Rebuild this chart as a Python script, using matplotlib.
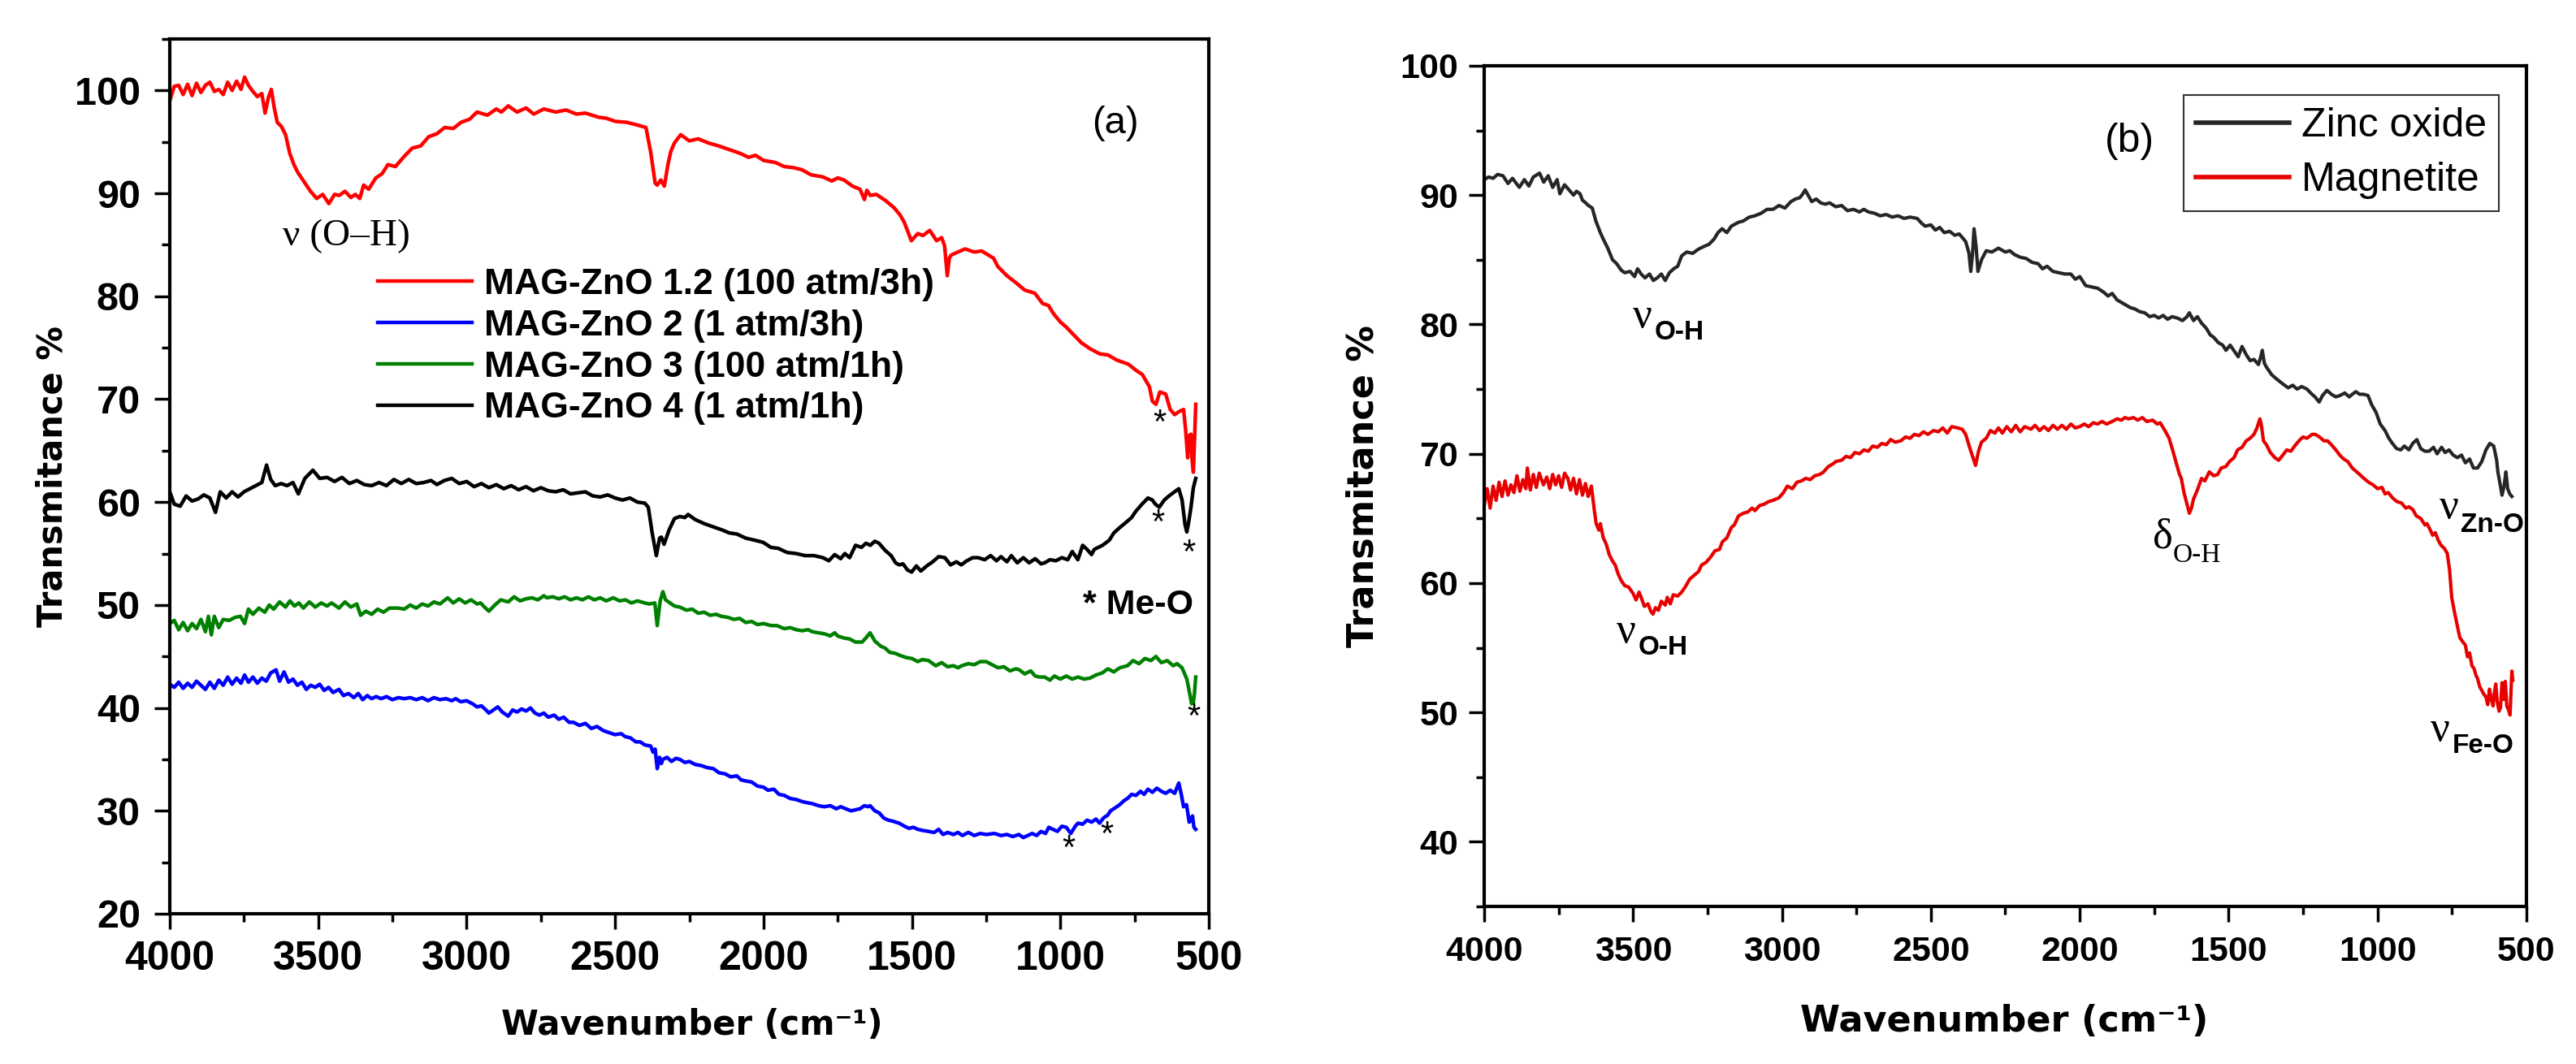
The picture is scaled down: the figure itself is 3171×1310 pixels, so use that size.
import matplotlib
matplotlib.use("Agg")
import matplotlib.pyplot as plt
from matplotlib.ticker import MultipleLocator

# ---------------- Panel (a) data ----------------
a_red_x = [4000, 3985, 3970, 3955, 3940, 3925, 3910, 3895, 3880, 3865, 3850, 3835, 3820, 3805, 3790, 3775, 3760, 3748, 3735, 3720,
           3705, 3690, 3679, 3668, 3658, 3648, 3638, 3624, 3610, 3596, 3582, 3568, 3554, 3540, 3526, 3505, 3485, 3464, 3445, 3429,
           3410, 3390, 3375, 3360, 3347, 3330, 3306, 3285, 3265, 3240, 3210, 3183, 3155, 3128, 3100, 3074, 3045, 3019, 2990, 2965,
           2930, 2900, 2883, 2860, 2830, 2800, 2774, 2740, 2700, 2665, 2630, 2600, 2556, 2530, 2500, 2460, 2420, 2396, 2380, 2365,
           2358, 2346, 2334, 2322, 2312, 2300, 2279, 2250, 2220, 2186, 2150, 2110, 2080, 2050, 2027, 2000, 1960, 1930, 1900, 1871,
           1840, 1800, 1770, 1750, 1729, 1700, 1675, 1660, 1652, 1640, 1620, 1589, 1560, 1540, 1526, 1502, 1480, 1463, 1440, 1417,
           1400, 1390, 1381, 1374, 1368, 1345, 1321, 1290, 1265, 1242, 1225, 1211, 1180, 1149, 1120, 1086, 1060, 1040, 1023, 1000,
           980, 960, 930, 900, 867, 840, 810, 771, 745, 724, 700, 690, 678, 665, 645, 630, 615, 600, 585, 578,
           571, 565, 560, 556, 552, 548, 544]
a_red_y = [99.0, 100.4, 100.5, 99.6, 100.6, 99.5, 100.7, 99.8, 100.5, 100.8, 99.9, 100.1, 99.6, 100.8, 100.0, 100.9, 100.1, 101.3, 100.5, 99.9,
           99.4, 99.7, 97.8, 99.3, 100.1, 98.3, 96.9, 96.5, 95.7, 93.9, 92.8, 92.0, 91.4, 90.8, 90.2, 89.5, 89.9, 89.0, 89.9, 89.8,
           90.2, 89.6, 89.9, 89.5, 90.8, 90.4, 91.5, 91.9, 92.8, 92.6, 93.6, 94.4, 94.6, 95.5, 95.8, 96.4, 96.3, 96.9, 97.2, 97.9,
           97.6, 98.2, 97.9, 98.5, 97.9, 98.3, 97.7, 98.2, 97.9, 98.1, 97.7, 97.8, 97.4, 97.3, 97.0, 96.9, 96.6, 96.4, 94.0, 91.0,
           90.8, 91.3, 90.7, 92.8, 94.1, 94.9, 95.7, 95.1, 95.3, 94.9, 94.6, 94.2, 93.9, 93.5, 93.7, 93.2, 93.0, 92.6, 92.5, 92.3,
           91.8, 91.6, 91.2, 91.5, 91.3, 90.7, 90.4, 89.4, 90.3, 89.8, 89.9, 89.3, 88.6, 87.9, 87.2, 85.4, 86.1, 85.9, 86.4, 85.4,
           85.7, 84.9, 82.0, 83.7, 84.0, 84.3, 84.6, 84.3, 84.4, 84.0, 83.7, 82.9, 82.0, 81.3, 80.6, 80.3, 79.3, 79.1, 78.3, 77.5,
           77.0, 76.4, 75.5, 74.9, 74.4, 74.3, 73.8, 73.4, 72.8, 72.4, 71.2, 69.8, 69.5, 70.7, 70.5, 69.0, 68.5, 68.8, 69.0, 67.0,
           64.3, 66.5, 66.6, 64.0, 62.9, 66.0, 69.5]

a_blk_x = [4000, 3985, 3965, 3945, 3925, 3905, 3885, 3865, 3846, 3830, 3810, 3790, 3770, 3750, 3730, 3710, 3690, 3674, 3660, 3645,
           3625, 3605, 3585, 3567, 3545, 3518, 3495, 3470, 3445, 3420, 3395, 3370, 3345, 3320, 3295, 3270, 3245, 3220, 3195, 3170,
           3145, 3120, 3100, 3075, 3050, 3025, 3000, 2975, 2950, 2925, 2900, 2875, 2850, 2825, 2800, 2775, 2750, 2725, 2700, 2675,
           2650, 2625, 2600, 2575, 2550, 2525, 2500, 2475, 2450, 2425, 2400, 2388, 2375, 2361, 2350, 2344, 2335, 2318, 2300, 2282,
           2265, 2254, 2230, 2199, 2170, 2140, 2115, 2090, 2060, 2030, 2002, 1975, 1950, 1920, 1890, 1860, 1830, 1800, 1780, 1760,
           1740, 1726, 1710, 1690, 1670, 1655, 1640, 1625, 1611, 1590, 1570, 1555, 1543, 1530, 1515, 1501, 1485, 1470, 1450, 1430,
           1410, 1389, 1370, 1350, 1334, 1315, 1295, 1277, 1255, 1235, 1215, 1200, 1180, 1165, 1145, 1125, 1105, 1085, 1065, 1053,
           1035, 1015, 995, 975, 960, 941, 925, 910, 895, 886, 858, 835, 820, 801, 780, 760, 746, 725, 705, 690,
           680, 667, 650, 634, 615, 601, 590, 580, 574, 568, 560, 552, 544]
a_blk_y = [61.0, 59.8, 59.6, 60.6, 60.1, 60.3, 60.7, 60.4, 59.0, 61.0, 60.4, 61.0, 60.5, 61.0, 61.3, 61.6, 61.9, 63.6, 62.2, 61.6,
           61.8, 61.6, 61.9, 60.8, 62.3, 63.1, 62.3, 62.4, 62.0, 62.4, 61.8, 62.1, 61.7, 61.6, 61.9, 61.6, 62.2, 61.8, 62.2, 61.8,
           61.9, 62.1, 61.7, 62.1, 62.3, 61.8, 62.0, 61.5, 61.8, 61.4, 61.7, 61.3, 61.6, 61.2, 61.5, 61.1, 61.4, 61.1, 61.0, 61.2,
           60.8, 60.9, 61.0, 60.6, 60.5, 60.7, 60.4, 60.2, 60.4, 60.0, 59.9, 59.5, 57.0, 54.8, 56.5, 56.6, 55.9, 57.3, 58.4, 58.6,
           58.5, 58.8, 58.3, 57.9, 57.6, 57.3, 57.0, 56.9, 56.5, 56.3, 56.1, 55.6, 55.5, 55.1, 55.0, 54.8, 54.8, 54.6, 54.3, 54.9,
           54.5, 55.0, 54.6, 55.8, 55.6, 56.0, 55.8, 56.2, 56.0, 55.3, 54.8, 54.1, 53.9, 54.0, 53.4, 53.2, 53.8, 53.3, 53.8, 54.2,
           54.7, 54.6, 53.9, 54.2, 53.9, 54.3, 54.6, 54.6, 54.4, 54.8, 54.3, 54.7, 54.2, 54.8, 54.1, 54.6, 54.1, 54.5, 54.0, 54.1,
           54.4, 54.3, 54.6, 54.4, 55.2, 54.4, 55.8, 55.4, 54.9, 55.4, 55.8, 56.3, 57.0, 57.5, 58.0, 58.5, 59.1, 59.8, 60.4, 60.2,
           59.8, 59.5, 60.2, 60.6, 61.0, 61.3, 60.2, 57.8, 57.1, 58.0, 59.5, 61.4, 62.3]

a_grn_x = [4000, 3985, 3970, 3955, 3940, 3925, 3910, 3895, 3880, 3870, 3860, 3850, 3835, 3820, 3800, 3780, 3762, 3748, 3735, 3720,
           3700, 3680, 3665, 3650, 3630, 3610, 3595, 3580, 3565, 3550, 3530, 3510, 3490, 3470, 3455, 3430, 3410, 3390, 3370, 3357,
           3340, 3320, 3300, 3280, 3260, 3231, 3210, 3190, 3170, 3150, 3130, 3110, 3090, 3064, 3045, 3025, 3005, 2985, 2965, 2953,
           2940, 2925, 2905, 2885, 2860, 2840, 2820, 2800, 2780, 2760, 2740, 2730, 2710, 2690, 2670, 2650, 2630, 2610, 2590, 2570,
           2550, 2530, 2506, 2485, 2465, 2445, 2425, 2400, 2385, 2366, 2358, 2348, 2339, 2330, 2315, 2300, 2282, 2260, 2240, 2220,
           2200, 2180, 2160, 2142, 2120, 2100, 2080, 2060, 2040, 2020, 2000, 1975, 1955, 1930, 1910, 1890, 1870, 1850, 1835, 1815,
           1795, 1775, 1760, 1751, 1730, 1710, 1690, 1668, 1655, 1641, 1625, 1605, 1590, 1575, 1556, 1540, 1520, 1500, 1480, 1465,
           1444, 1420, 1400, 1380, 1360, 1345, 1332, 1310, 1290, 1270, 1250, 1230, 1210, 1190, 1170, 1150, 1138, 1120, 1100, 1085,
           1070, 1053, 1035, 1020, 1000, 980, 960, 941, 920, 900, 880, 859, 840, 820, 800, 774, 755, 735, 715, 695,
           678, 660, 640, 620, 607, 590, 580, 574, 565, 558, 552, 548, 544]
a_grn_y = [48.2, 48.5, 47.6, 48.3, 47.5, 48.2, 47.7, 48.6, 47.4, 48.9, 47.1, 48.9, 47.8, 48.6, 48.5, 48.8, 48.9, 48.2, 49.6, 49.1,
           49.7, 49.3, 50.0, 49.6, 50.3, 49.8, 50.4, 49.9, 50.2, 49.7, 50.3, 49.8, 50.2, 49.9, 50.2, 49.7, 50.3, 49.8, 50.1, 49.0,
           49.4, 49.1, 49.6, 49.3, 49.7, 49.7, 49.6, 50.0, 49.7, 50.1, 49.9, 50.3, 50.1, 50.7, 50.2, 50.6, 50.2, 50.5, 50.1, 50.2,
           49.8, 49.4, 50.0, 50.5, 50.3, 50.8, 50.4, 50.6, 50.7, 50.5, 50.9, 50.7, 50.8, 50.6, 50.8, 50.5, 50.7, 50.5, 50.8, 50.5,
           50.7, 50.4, 50.7, 50.4, 50.5, 50.2, 50.4, 50.2, 50.1, 50.2, 48.0, 50.4, 51.3, 50.5, 50.2, 49.9, 49.8, 49.5, 49.6, 49.2,
           49.3, 49.0, 49.1, 48.9, 48.8, 48.6, 48.7, 48.3, 48.4, 48.1, 48.2, 48.0, 48.0, 47.7, 47.8, 47.6, 47.5, 47.6, 47.4, 47.3,
           47.2, 47.0, 47.3, 47.0, 46.8, 46.7, 46.4, 46.4, 46.8, 47.3, 46.5, 46.0, 45.8, 45.4, 45.3, 45.1, 44.9, 44.8, 44.5, 44.7,
           44.6, 44.1, 44.4, 44.0, 44.1, 43.9, 44.1, 44.3, 44.2, 44.5, 44.5, 44.2, 43.9, 44.0, 43.6, 43.8, 43.7, 43.3, 43.6, 43.1,
           43.0, 43.0, 42.7, 43.1, 42.8, 43.1, 42.8, 43.0, 42.8, 42.9, 43.2, 43.4, 43.8, 43.5, 43.9, 44.1, 44.6, 44.3, 44.8, 44.6,
           45.0, 44.4, 44.6, 44.1, 44.3, 43.9, 43.2, 42.8, 41.5, 40.4, 40.5, 41.5, 43.0]

a_blu_x = [4000, 3985, 3970, 3955, 3940, 3925, 3910, 3895, 3880, 3865, 3850, 3835, 3820, 3805, 3790, 3775, 3760, 3748, 3735, 3720,
           3705, 3690, 3675, 3660, 3642, 3630, 3615, 3600, 3585, 3570, 3555, 3540, 3525, 3510, 3495, 3480, 3465, 3450, 3430, 3415,
           3398, 3380, 3365, 3350, 3335, 3320, 3305, 3288, 3270, 3250, 3230, 3210, 3190, 3170, 3150, 3130, 3110, 3090, 3070, 3050,
           3037, 3020, 3000, 2980, 2965, 2950, 2935, 2925, 2910, 2895, 2880, 2860, 2845, 2830, 2815, 2800, 2785, 2770, 2755, 2740,
           2725, 2705, 2690, 2673, 2655, 2640, 2620, 2600, 2580, 2561, 2540, 2520, 2500, 2480, 2465, 2449, 2430, 2415, 2400, 2380,
           2372, 2365, 2358, 2350, 2344, 2339, 2325, 2310, 2295, 2282, 2265, 2250, 2230, 2210, 2190, 2169, 2150, 2130, 2110, 2090,
           2075, 2060, 2040, 2020, 2000, 1985, 1965, 1948, 1930, 1910, 1890, 1870, 1855, 1836, 1815, 1795, 1775, 1755, 1740, 1723,
           1705, 1690, 1675, 1660, 1648, 1641, 1625, 1610, 1595, 1580, 1565, 1543, 1525, 1510, 1495, 1480, 1465, 1444, 1425, 1410,
           1395, 1380, 1360, 1345, 1330, 1310, 1290, 1270, 1250, 1222, 1200, 1180, 1160, 1140, 1125, 1110, 1095, 1080, 1065, 1050,
           1039, 1025, 1010, 995, 980, 965, 950, 941, 925, 910, 895, 880, 868, 855, 840, 831, 815, 800, 785, 774,
           760, 745, 730, 718, 705, 690, 675, 660, 645, 630, 615, 601, 592, 585, 575, 566, 560, 555, 550, 544]
a_blu_y = [42.3, 42.0, 42.5, 41.9, 42.4, 42.0, 42.6, 42.2, 41.8, 42.5, 41.9, 42.7, 42.2, 43.0, 42.3, 42.9, 42.4, 43.2, 42.5, 43.0,
           42.4, 42.9, 42.6, 43.4, 43.7, 42.6, 43.5, 42.5, 42.8, 42.2, 42.5, 41.8, 42.2, 42.0, 42.3, 41.7, 42.0, 41.5, 41.8, 41.2,
           41.4, 41.0, 41.4, 40.8, 41.2, 40.9, 41.1, 40.9, 41.1, 40.8, 41.0, 40.9, 41.0, 40.8, 41.0, 40.7, 41.0, 40.8, 40.9, 40.7,
           40.9, 40.6, 40.7, 40.4, 40.1, 40.2, 39.8, 39.5, 39.8, 40.1, 39.6, 39.2, 39.8, 39.6, 39.9, 39.7, 40.0, 39.5, 39.3, 39.5,
           39.1, 39.3, 38.9, 39.1, 38.6, 38.6, 38.3, 38.5, 38.0, 38.2, 37.8, 37.6, 37.4, 37.5, 37.2, 37.1, 36.7, 36.7, 36.4, 36.3,
           35.7, 36.0, 34.1, 35.2, 34.6, 35.0, 35.2, 34.8, 35.1, 35.0, 34.7, 34.8, 34.5, 34.4, 34.2, 34.1, 33.7, 33.6, 33.3, 33.4,
           33.0, 32.9, 32.8, 32.4, 32.3, 32.0, 32.1, 31.6, 31.5, 31.2, 31.1, 30.9, 30.8, 30.7, 30.5, 30.4, 30.5, 30.2, 30.4, 30.2,
           30.0, 30.1, 30.2, 30.5, 30.4, 30.5, 30.0, 29.8, 29.3, 29.1, 29.0, 28.8, 28.5, 28.3, 28.4, 28.2, 28.1, 28.0, 27.9, 28.2,
           27.7, 27.9, 27.7, 27.9, 27.6, 27.9, 27.6, 27.8, 27.7, 27.8, 27.6, 27.7, 27.5, 27.7, 27.4, 27.6, 27.8, 27.6, 28.0, 27.8,
           28.4, 28.2, 28.0, 28.5, 28.4, 27.8, 28.5, 28.8, 28.7, 29.1, 28.9, 29.2, 28.8, 29.3, 29.6, 30.0, 30.3, 30.6, 31.0, 31.2,
           31.6, 31.5, 31.9, 31.6, 32.1, 31.8, 32.2, 31.9, 31.7, 32.0, 31.7, 32.7, 31.5, 30.4, 30.6, 28.9, 29.1, 29.5, 28.4, 28.2]

a_labels = ["MAG-ZnO 1.2 (100 atm/3h)", "MAG-ZnO 2 (1 atm/3h)", "MAG-ZnO 3 (100 atm/1h)", "MAG-ZnO 4 (1 atm/1h)"]
a_star_x = [667, 672, 568, 552, 971, 845]
a_star_y = [67.6, 57.9, 55.0, 39.0, 26.2, 27.6]

# ---------------- Panel (b) data ----------------
b_zno_x = [4000, 3985, 3970, 3955, 3937, 3920, 3905, 3882, 3865, 3850, 3835, 3814, 3800, 3785, 3770, 3755, 3746, 3730, 3715, 3700,
           3690, 3678, 3670, 3664, 3650, 3637, 3625, 3610, 3598, 3585, 3569, 3555, 3540, 3528, 3510, 3495, 3485, 3473, 3460, 3445,
           3432, 3419, 3405, 3392, 3378, 3364, 3350, 3337, 3320, 3300, 3282, 3265, 3245, 3228, 3215, 3201, 3185, 3170, 3146, 3130,
           3110, 3091, 3070, 3050, 3030, 3010, 2990, 2970, 2955, 2940, 2930, 2922, 2910, 2900, 2885, 2870, 2855, 2840, 2819, 2800,
           2780, 2760, 2740, 2725, 2710, 2690, 2670, 2650, 2630, 2610, 2590, 2570, 2546, 2530, 2519, 2500, 2485, 2470, 2455, 2437,
           2420, 2405, 2390, 2383, 2372, 2366, 2360, 2355, 2348, 2342, 2330, 2314, 2295, 2273, 2250, 2235, 2219, 2200, 2180, 2160,
           2140, 2125, 2110, 2090, 2070, 2050, 2030, 2015, 2000, 1980, 1960, 1940, 1920, 1905, 1891, 1875, 1860, 1845, 1830, 1815,
           1800, 1782, 1765, 1750, 1735, 1720, 1705, 1690, 1673, 1655, 1640, 1632, 1618, 1605, 1591, 1575, 1562, 1550, 1535, 1520,
           1509, 1495, 1480, 1468, 1455, 1442, 1428, 1415, 1400, 1392, 1387, 1380, 1373, 1355, 1340, 1318, 1300, 1285, 1270, 1255,
           1237, 1220, 1210, 1196, 1185, 1170, 1155, 1140, 1127, 1110, 1095, 1085, 1073, 1060, 1046, 1032, 1020, 1005, 991, 975,
           962, 950, 936, 922, 910, 895, 882, 868, 855, 841, 827, 812, 800, 785, 773, 760, 746, 732, 718, 705,
           691, 678, 664, 650, 636, 623, 610, 600, 596, 588, 582, 575, 569, 563, 556, 549]
b_zno_y = [91.2, 91.4, 91.3, 91.6, 91.5, 90.9, 91.3, 90.6, 91.2, 90.7, 91.4, 91.7, 91.0, 91.5, 90.6, 91.2, 90.1, 90.8, 90.4, 90.0,
           90.3, 90.1, 89.6, 89.5, 89.2, 89.0, 88.0, 87.1, 86.5, 85.9, 85.0, 84.7, 84.2, 84.0, 84.1, 83.7, 84.3, 83.9, 83.6, 83.9,
           83.4, 83.6, 83.9, 83.4, 84.0, 84.3, 84.5, 85.3, 85.6, 85.5, 85.8, 86.0, 86.2, 86.6, 87.1, 87.4, 87.1, 87.6, 87.9, 88.0,
           88.3, 88.4, 88.6, 88.9, 88.9, 89.2, 89.0, 89.5, 89.7, 89.8, 90.1, 90.4, 89.9, 89.5, 89.7, 89.4, 89.3, 89.4, 89.1, 89.2,
           88.8, 88.9, 88.7, 88.9, 88.7, 88.6, 88.4, 88.5, 88.3, 88.4, 88.2, 88.3, 88.2, 87.8, 87.6, 87.7, 87.3, 87.5, 87.1, 87.2,
           86.9, 87.0, 86.6, 86.4, 85.5, 84.1, 85.5, 87.4, 86.0, 84.1, 85.0, 85.7, 85.6, 85.9, 85.6, 85.7, 85.4, 85.2, 85.1, 84.8,
           84.7, 84.3, 84.5, 84.1, 84.0, 83.9, 83.9, 83.5, 83.7, 83.0, 82.9, 82.8, 82.5, 82.2, 82.4, 81.9, 81.7, 81.5, 81.3, 81.2,
           81.0, 80.9, 80.6, 80.7, 80.5, 80.7, 80.4, 80.6, 80.5, 80.3, 80.6, 80.9, 80.3, 80.6, 80.1, 79.7, 79.2, 79.0, 78.6, 78.4,
           78.0, 78.4, 77.9, 77.5, 78.3, 77.7, 77.2, 77.3, 76.9, 77.5, 78.0, 77.0, 76.7, 76.1, 75.8, 75.4, 75.1, 75.3, 75.0, 75.2,
           75.0, 74.6, 74.4, 74.0, 74.5, 74.9, 74.6, 74.4, 74.5, 74.7, 74.4, 74.6, 74.8, 74.6, 74.6, 74.5, 73.8, 73.2, 72.3, 71.8,
           71.2, 70.8, 70.4, 70.3, 70.6, 70.3, 70.8, 71.1, 70.4, 70.2, 70.2, 70.5, 70.0, 70.5, 70.1, 70.3, 69.9, 69.7, 69.9, 69.3,
           69.6, 68.9, 68.9, 69.4, 70.3, 70.8, 70.6, 69.5, 68.6, 67.6, 66.8, 67.5, 68.6, 67.3, 66.9, 66.7]

b_mag_x = [4000, 3990, 3980, 3970, 3960, 3950, 3940, 3930, 3920, 3910, 3900, 3890, 3880, 3870, 3860, 3855, 3845, 3835, 3825, 3815,
           3801, 3790, 3780, 3770, 3760, 3750, 3740, 3730, 3719, 3710, 3700, 3690, 3680, 3670, 3660, 3651, 3640, 3630, 3624, 3615,
           3610, 3600, 3590, 3580, 3569, 3560, 3550, 3540, 3528, 3515, 3500, 3490, 3480, 3473, 3462, 3450, 3440, 3433, 3425, 3415,
           3405, 3392, 3385, 3375, 3365, 3350, 3337, 3325, 3310, 3295, 3280, 3270, 3255, 3240, 3225, 3210, 3200, 3185, 3170, 3160,
           3146, 3130, 3115, 3100, 3091, 3075, 3060, 3045, 3030, 3010, 2995, 2982, 2965, 2950, 2935, 2920, 2905, 2890, 2873, 2860,
           2845, 2830, 2819, 2800, 2785, 2770, 2755, 2740, 2725, 2710, 2695, 2680, 2665, 2650, 2635, 2620, 2601, 2585, 2570, 2555,
           2540, 2525, 2510, 2491, 2475, 2460, 2445, 2430, 2410, 2395, 2383, 2370, 2360, 2350, 2340, 2330, 2314, 2300, 2285, 2273,
           2260, 2245, 2230, 2215, 2200, 2185, 2164, 2150, 2135, 2120, 2105, 2090, 2075, 2060, 2045, 2030, 2015, 2000, 1985, 1970,
           1955, 1940, 1925, 1910, 1891, 1875, 1860, 1848, 1836, 1820, 1805, 1790, 1775, 1755, 1740, 1730, 1714, 1700, 1687, 1675,
           1665, 1659, 1650, 1640, 1632, 1625, 1618, 1605, 1591, 1580, 1565, 1550, 1537, 1525, 1510, 1497, 1482, 1470, 1455, 1441,
           1428, 1415, 1405, 1395, 1390, 1383, 1373, 1360, 1345, 1332, 1318, 1305, 1291, 1275, 1260, 1250, 1237, 1220, 1209, 1195,
           1180, 1168, 1155, 1140, 1127, 1114, 1100, 1085, 1070, 1060, 1046, 1030, 1015, 1000, 985, 975, 964, 950, 935, 920,
           905, 895, 882, 870, 855, 841, 834, 827, 815, 806, 796, 786, 776, 766, 758, 751, 742, 732, 724, 715,
           705, 698, 691, 683, 676, 670, 664, 657, 650, 643, 636, 630, 624, 618, 612, 609, 603, 598, 592, 587,
           582, 577, 571, 566, 560, 555, 552, 549, 546]
b_mag_y = [66.0, 67.3, 65.8, 67.5, 66.4, 67.8, 66.7, 67.9, 66.8, 67.6, 67.0, 68.3, 67.1, 68.0, 67.3, 68.9, 67.2, 68.4, 67.4, 68.5,
           67.6, 68.2, 67.3, 68.4, 67.6, 68.3, 67.4, 68.5, 68.1, 67.2, 68.1, 66.9, 68.0, 66.8, 67.7, 66.7, 67.5, 65.6, 64.6, 64.1,
           64.6, 63.5, 63.0, 62.2, 61.7, 61.4, 60.7, 60.2, 59.8, 59.7, 59.2, 58.7, 59.3, 58.9, 58.2, 58.4, 57.8, 57.6, 58.1, 57.9,
           58.6, 58.3, 58.9, 58.4, 59.1, 59.0, 59.3, 59.7, 60.3, 60.6, 60.9, 61.4, 61.6, 62.0, 62.5, 62.6, 63.2, 63.5, 64.3, 64.5,
           65.2, 65.4, 65.5, 65.8, 65.6, 66.0, 66.1, 66.3, 66.4, 66.6, 67.0, 67.5, 67.3, 67.8, 67.9, 68.1, 68.0, 68.3, 68.4, 68.6,
           69.0, 69.2, 69.4, 69.5, 69.8, 69.7, 70.1, 70.0, 70.3, 70.2, 70.6, 70.5, 70.8, 70.7, 71.1, 70.9, 71.0, 71.3, 71.2, 71.5,
           71.4, 71.7, 71.5, 71.8, 71.7, 72.0, 71.6, 72.1, 72.0, 71.9, 71.5, 70.5, 69.8, 69.1, 70.2, 70.9, 71.2, 71.8, 71.6, 72.0,
           71.6, 72.1, 71.7, 72.2, 71.7, 72.1, 71.9, 72.2, 71.8, 72.1, 71.8, 72.2, 71.9, 72.2, 71.9, 72.3, 72.0, 72.1, 72.3, 72.1,
           72.4, 72.3, 72.5, 72.3, 72.5, 72.7, 72.6, 72.8, 72.7, 72.8, 72.6, 72.8, 72.5, 72.6, 72.3, 72.4, 71.8, 71.2, 70.2, 69.2,
           68.4, 68.1, 67.0, 66.1, 65.4, 65.8, 66.5, 67.2, 68.1, 67.9, 68.6, 68.3, 68.4, 68.9, 69.0, 69.4, 69.7, 70.3, 70.5, 71.0,
           71.2, 71.5, 72.0, 72.7, 72.2, 71.0, 70.7, 70.1, 69.7, 69.5, 69.9, 70.3, 70.2, 70.7, 71.1, 71.3, 71.2, 71.5, 71.5, 71.3,
           71.0, 71.0, 70.7, 70.3, 69.9, 69.6, 69.4, 68.9, 68.6, 68.4, 68.1, 67.8, 67.6, 67.3, 67.4, 66.9, 67.0, 66.6, 66.3, 66.2,
           65.8, 65.9, 65.7, 65.2, 65.0, 64.5, 64.6, 64.3, 63.7, 63.9, 63.3, 62.9, 62.7, 62.3, 61.0, 58.9, 57.8, 56.7, 55.8, 55.5,
           55.2, 54.3, 54.6, 53.6, 53.4, 52.9, 52.6, 52.0, 51.7, 51.4, 51.2, 50.6, 51.8, 51.0, 50.5, 51.3, 52.2, 50.8, 50.1, 50.4,
           52.3, 51.0, 52.4, 50.5, 50.2, 49.8, 51.5, 53.2, 52.5]

b_labels = ["Zinc oxide", "Magnetite"]

# ---------------- Figure ----------------
W, H = 3171, 1310
fig = plt.figure(figsize=(W / 100, H / 100), dpi=100)
fig.patch.set_facecolor("white")

SANS = "Liberation Sans"
SERIF = "Liberation Serif"
WIDE = "DejaVu Sans"

ax1 = fig.add_axes([209 / W, 1 - 1125 / H, (1488 - 209) / W, (1125 - 48) / H])
ax2 = fig.add_axes([1827 / W, 1 - 1116 / H, (3110 - 1827) / W, (1116 - 81) / H])

lw_a = 3.2
l1, = ax1.plot(a_red_x, a_red_y, color="#ff0000", lw=lw_a, label=a_labels[0])
l2, = ax1.plot(a_blu_x, a_blu_y, color="#0000ff", lw=lw_a, label=a_labels[1])
l3, = ax1.plot(a_grn_x, a_grn_y, color="#008000", lw=lw_a, label=a_labels[2])
l4, = ax1.plot(a_blk_x, a_blk_y, color="#000000", lw=lw_a, label=a_labels[3])

ax2.plot(b_zno_x, b_zno_y, color="#262626", lw=3.0, label=b_labels[0])
ax2.plot(b_mag_x, b_mag_y, color="#e60000", lw=3.0, label=b_labels[1])

# axes styling
for ax, ylo, yhi, yt, xfs, yfs, xpad, ypad in [
        (ax1, 20, 105, range(20, 101, 10), 36, 35, 10, 12),
        (ax2, 35, 100, range(40, 101, 10), 31, 31, 12, 9)]:
    ax.set_xlim(4000, 500)
    ax.set_ylim(ylo, yhi)
    ax.set_xticks(range(4000, 499, -500))
    ax.set_yticks(list(yt))
    ax.xaxis.set_minor_locator(MultipleLocator(250))
    ax.yaxis.set_minor_locator(MultipleLocator(5))
    ax.tick_params(which="both", direction="out", top=False, right=False, width=2.5)
    ax.tick_params(which="major", length=14)
    ax.tick_params(which="minor", length=7)
    ax.tick_params(axis="x", which="major", pad=xpad)
    ax.tick_params(axis="y", which="major", pad=ypad)
    for s in ax.spines.values():
        s.set_linewidth(3.0)
    for t in ax.get_xticklabels():
        t.set_fontfamily(SANS); t.set_fontweight("bold"); t.set_fontsize(xfs)
    for t in ax.get_yticklabels():
        t.set_fontfamily(SANS); t.set_fontweight("bold"); t.set_fontsize(yfs)

ax1.set_xlabel("Wavenumber (cm⁻¹)", fontfamily=WIDE, fontweight="bold", fontsize=30)
ax1.set_ylabel("Transmitance %", fontfamily=WIDE, fontweight="bold", fontsize=30)
ax2.set_xlabel("Wavenumber (cm⁻¹)", fontfamily=WIDE, fontweight="bold", fontsize=32)
ax2.set_ylabel("Transmitance %", fontfamily=WIDE, fontweight="bold", fontsize=32)
ax1.xaxis.label.set_va("center"); ax2.xaxis.label.set_va("center")
ax1.yaxis.label.set_va("center"); ax2.yaxis.label.set_va("center")
ax1.xaxis.set_label_coords((852 - 209) / 1279, (1125 - 1262) / 1077)
ax1.yaxis.set_label_coords((65 - 209) / 1279, 0.5)
ax2.xaxis.set_label_coords((2467 - 1827) / 1283, (1116 - 1257) / 1035)
ax2.yaxis.set_label_coords((1678 - 1827) / 1283, 0.5)

# legend (a)
leg1 = ax1.legend(handles=[l1, l2, l3, l4], loc="upper left",
                  bbox_to_anchor=((465 - 209) / 1279, (1125 - 330) / 1077),
                  frameon=False, borderpad=0, borderaxespad=0,
                  handlelength=2.6, handletextpad=0.35, labelspacing=0.22,
                  prop={"family": SANS, "weight": "bold", "size": 32})
for ln in leg1.get_lines():
    ln.set_linewidth(3.2)

# legend (b)
leg2 = ax2.legend(loc="upper left", bbox_to_anchor=((2688 - 1827) / 1283, (1116 - 117) / 1035),
                  frameon=True, fancybox=False, edgecolor="#333333", framealpha=1,
                  borderpad=0.3, borderaxespad=0, handlelength=2.3, handletextpad=0.3,
                  labelspacing=0.42, prop={"family": SANS, "size": 36})
leg2.get_frame().set_linewidth(1.5)
for ln in leg2.get_lines():
    ln.set_linewidth(4.0)

# panel letters
ax1.text((1373 - 209) / 1279, (1125 - 152) / 1077, "(a)", transform=ax1.transAxes,
         ha="center", va="center", fontfamily=SANS, fontsize=34)
ax2.text((2621 - 1827) / 1283, (1116 - 174) / 1035, "(b)", transform=ax2.transAxes,
         ha="center", va="center", fontfamily=SANS, fontsize=36)

# annotations (a)
ax1.text(3620, 84.95, "ν (O–H)", ha="left", va="baseline", fontfamily=SERIF, fontsize=34)
for sx, sy in zip(a_star_x, a_star_y):
    ax1.text(sx, sy, "*", ha="center", va="center", fontfamily=SANS, fontsize=30)
ax1.text(552, 50.0, "* Me-O", ha="right", va="center", fontfamily=SANS, fontweight="bold", fontsize=31)


# annotations (b): symbol + lowered subscript (positions = left edge / baseline)
def sym_sub(ax, x, y, sym, sub, dx=19, dy=-11, sub_serif=False):
    ax.text(x, y, sym, ha="left", va="baseline", fontfamily=SERIF, fontsize=38)
    ax.annotate(sub, xy=(x, y), xycoords="data", xytext=(dx, dy), textcoords="offset points",
                ha="left", va="baseline",
                fontfamily=SERIF if sub_serif else SANS,
                fontweight="normal" if sub_serif else "bold", fontsize=24)


sym_sub(ax2, 3501, 79.8, "ν", "O-H")
sym_sub(ax2, 3555, 55.4, "ν", "O-H")
sym_sub(ax2, 1755, 62.7, "δ", "O-H", dx=18, dy=-12, sub_serif=True)
sym_sub(ax2, 792, 65.0, "ν", "Zn-O", dy=-12)
sym_sub(ax2, 822, 47.8, "ν", "Fe-O")

fig.savefig("out.png", dpi=100)
